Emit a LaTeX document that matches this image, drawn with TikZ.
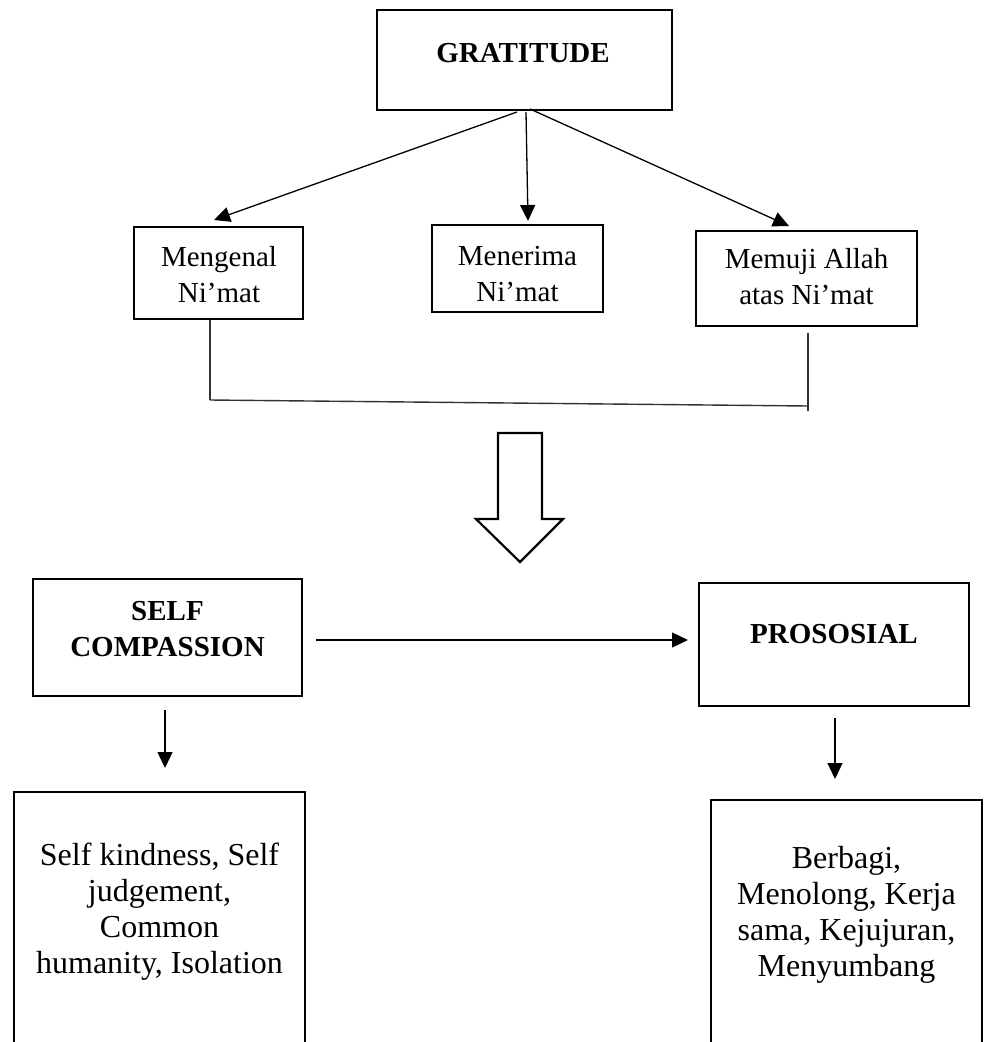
\documentclass[tikz,border=0pt]{standalone}
\usepackage{fontspec}
\setmainfont{Liberation Serif}
\usetikzlibrary{arrows.meta,calc}
\begin{document}
\begin{tikzpicture}[x=1pt,y=-1pt,
  box/.style={draw=black,line width=2.8pt,rectangle,inner sep=0pt,outer sep=0pt},
  txt/.style={inner sep=0pt,outer sep=0pt,align=center,font=\fontsize{29}{36}\selectfont},
  bigtxt/.style={txt,font=\fontsize{32}{36}\selectfont},
  btxt/.style={txt,font=\fontsize{29}{36}\selectfont\bfseries},
  arr/.style={draw=black,line width=1.3pt,-{Triangle[length=16pt,width=15pt]}},
  lnk/.style={draw=black!80,line width=1.4pt},
  blockarrow/.style={draw=black,line width=2.2pt,fill=white,line join=miter}]
\useasboundingbox (0,0) rectangle (985,1042);
\clip (0,0) rectangle (985,1042);

% boxes
\node[box,minimum width=295pt,minimum height=100pt] (g)  at (524.5,60) {};
\node[box,minimum width=169pt,minimum height=92pt]  (m1) at (218.5,273) {};
\node[box,minimum width=171pt,minimum height=87pt]  (m2) at (517.5,268.5) {};
\node[box,minimum width=221pt,minimum height=95pt]  (m3) at (806.5,278.5) {};
\node[box,minimum width=269pt,minimum height=117pt] (sc) at (167.5,637.5) {};
\node[box,minimum width=270pt,minimum height=123pt] (pr) at (834,644.5) {};
\node[box,minimum width=291pt,minimum height=308pt] (b1) at (159.5,946) {};
\node[box,minimum width=271pt,minimum height=300pt] (b2) at (846.5,950) {};

% texts
\node[btxt,anchor=base] (gt) at (523,62) {GRATITUDE};
\node[txt] (m1t) at (219,275) {Mengenal\\Ni’mat};
\node[txt] (m2t) at (517.5,274) {Menerima\\Ni’mat};
\node[txt] (m3t) at (806.5,277) {Memuji Allah\\atas Ni’mat};
\node[btxt] (sct) at (167.5,629) {SELF\\COMPASSION};
\node[btxt,anchor=base] (prt) at (834,643) {PROSOSIAL};
\node[bigtxt] (b1t) at (159.5,912) {Self kindness, Self\\judgement,\\Common\\humanity, Isolation};
\node[bigtxt] (b2t) at (846.5,915) {Berbagi,\\Menolong, Kerja\\sama, Kejujuran,\\Menyumbang};

% arrows from GRATITUDE
\coordinate (g1) at (517,112);
\coordinate (g2) at (526,112);
\coordinate (g3) at (530,109);
\coordinate (t1) at (214,220);
\coordinate (t2) at (528,221);
\coordinate (t3) at (789,226);
\draw[arr] (g1) -- (t1);
\draw[arr] (g2) -- (t2);
\draw[arr] (g3) -- (t3);

% bracket
\coordinate (k1) at (210,320);
\coordinate (k2) at (210,400);
\coordinate (k3) at (808,406);
\coordinate (k4) at (808,333);
\coordinate (k5) at (808,411);
\draw[lnk] (k1) -- (k2);
\draw[lnk] (k2) -- (k3);
\draw[lnk] (k4) -- (k5);

% block arrow
\draw[blockarrow] (498,433) -- (542,433) -- (542,519) -- (563,519) -- (520,562)
  -- (476,519) -- (498,519) -- cycle;

% lower arrows
\coordinate (h1) at (316,640);
\coordinate (h2) at (688,640);
\draw[arr] (h1) -- (h2);
\coordinate (d1) at (165,710);
\coordinate (d2) at (165,768);
\draw[arr] (d1) -- (d2);
\coordinate (d3) at (835,718);
\coordinate (d4) at (835,779);
\draw[arr] (d3) -- (d4);
\end{tikzpicture}
\end{document}
